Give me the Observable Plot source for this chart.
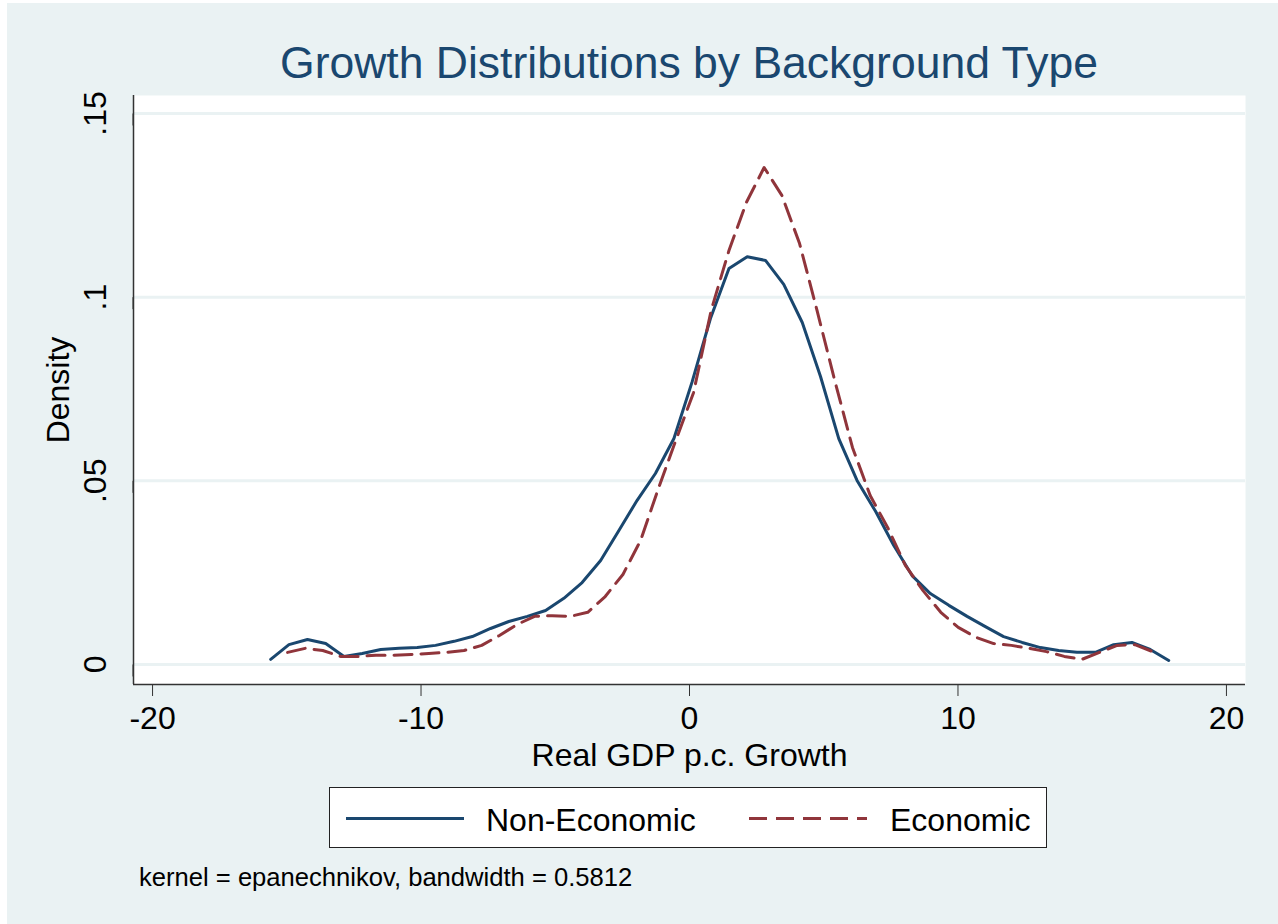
<!DOCTYPE html>
<html>
<head>
<meta charset="utf-8">
<script src="https://cdn.jsdelivr.net/npm/d3@7"></script>
<script src="https://cdn.jsdelivr.net/npm/@observablehq/plot@0.6"></script>
<style>
  html, body { margin: 0; padding: 0; background: #ffffff; width: 1278px; height: 924px; overflow: hidden;
    font-family: "Liberation Sans", Arial, sans-serif; }
  #bg { position: absolute; left: 7px; top: 3px; width: 1271px; height: 921px; background: #EAF2F3; }
  #title { position: absolute; left: 133px; width: 1112px; top: 38px; text-align: center; font-size: 44.5px;
    line-height: 50px; color: #1A476F; white-space: nowrap; }
  #chart { position: absolute; left: 0; top: 80px; }
  #legend { position: absolute; left: 329px; top: 787px; width: 716px; height: 59px; background: #ffffff;
    border: 1px solid #222; box-sizing: content-box; }
  .key { position: absolute; top: 0; }
  .lab { position: absolute; top: 14px; font-size: 32px; line-height: 36px; color: #000; white-space: nowrap; }
  #caption { position: absolute; left: 139px; top: 862px; font-size: 25.6px; line-height: 30px; color: #000; white-space: nowrap; }
</style>
</head>
<body>
<div id="bg"></div>
<div id="title"></div>
<div id="chart"></div>
<div id="legend"></div>
<div id="caption"></div>
<script>
// ---- Data ----
const titleText = "Growth Distributions by Background Type";
const xLabel = "Real GDP p.c. Growth";
const yLabel = "Density";
const seriesNames = ["Non-Economic", "Economic"];
const captionText = "kernel = epanechnikov, bandwidth = 0.5812";

const xTicks = [-20, -10, 0, 10, 20];
const xTickLabels = ["-20", "-10", "0", "10", "20"];
const yTicks = [0, 0.05, 0.1, 0.15];
const yTickLabels = ["0", ".05", ".1", ".15"];

const xNonEcon = [-15.60,-14.92,-14.23,-13.55,-12.87,-12.19,-11.50,-10.82,-10.14,-9.46,
  -8.77,-8.09,-7.41,-6.73,-6.04,-5.36,-4.68,-4.00,-3.31,-2.63,
  -1.95,-1.27,-0.58,0.10,0.78,1.47,2.15,2.83,3.51,4.20,
  4.88,5.56,6.24,6.93,7.61,8.29,8.97,9.66,10.34,11.02,
  11.70,12.39,13.07,13.75,14.43,15.12,15.80,16.48,17.16,17.85];
const yNonEcon = [0.0014,0.0054,0.0068,0.0057,0.0022,0.0030,0.0041,0.0044,0.0046,0.0052,
  0.0063,0.0076,0.0098,0.0117,0.0131,0.0147,0.0180,0.0223,0.0283,0.0365,
  0.0447,0.0520,0.0615,0.0770,0.0942,0.1078,0.1110,0.1100,0.1035,0.0931,
  0.0784,0.0615,0.0501,0.0417,0.0324,0.0242,0.0193,0.0161,0.0131,0.0103,
  0.0076,0.0060,0.0046,0.0038,0.0033,0.0033,0.0054,0.0060,0.0041,0.0011];

const xEcon = [-14.97,-14.31,-13.66,-13.00,-12.34,-11.68,-11.03,-10.37,-9.71,-9.05,
  -8.40,-7.74,-7.08,-6.42,-5.77,-5.11,-4.45,-3.79,-3.14,-2.48,
  -1.82,-1.16,-0.51,0.15,0.81,1.47,2.12,2.78,3.44,4.10,
  4.75,5.41,6.07,6.73,7.38,8.04,8.70,9.36,10.01,10.67,
  11.33,11.99,12.64,13.30,13.96,14.62,15.27,15.93,16.59,17.25];
const yEcon = [0.0033,0.0044,0.0038,0.0022,0.0022,0.0025,0.0025,0.0027,0.0030,0.0033,
  0.0038,0.0052,0.0079,0.0109,0.0131,0.0133,0.0131,0.0142,0.0185,0.0245,
  0.0338,0.0479,0.0610,0.0740,0.0965,0.1127,0.1258,0.1353,0.1277,0.1146,
  0.0964,0.0773,0.0591,0.0460,0.0373,0.0270,0.0201,0.0142,0.0101,0.0074,
  0.0057,0.0052,0.0044,0.0035,0.0022,0.0014,0.0033,0.0052,0.0054,0.0035];

const colors = ["#1A476F", "#90353B"];
const dashes = [null, "18,9"];

// ---- Build table ----
const rows = [
  ...xNonEcon.map((x, i) => ({x, y: yNonEcon[i], series: seriesNames[0]})),
  ...xEcon.map((x, i) => ({x, y: yEcon[i], series: seriesNames[1]}))
];

const xDomain = [-20.71, 20.71];
const yDomain = [-0.00545, 0.1549];
const font = "Liberation Sans, Arial, sans-serif";

const chart = Plot.plot({
  width: 1278,
  height: 700,
  marginLeft: 133,
  marginRight: 33,
  marginTop: 15,
  marginBottom: 96,
  style: {background: "transparent", fontFamily: font, overflow: "visible", color: "#000"},
  x: {domain: xDomain},
  y: {domain: yDomain},
  marks: [
    Plot.frame({fill: "white", stroke: "none"}),
    Plot.gridY(yTicks, {stroke: "#EAF2F3", strokeOpacity: 1, strokeWidth: 3}),
    Plot.line(rows.filter(d => d.series === seriesNames[0]), {x: "x", y: "y", stroke: colors[0], strokeWidth: 3}),
    Plot.line(rows.filter(d => d.series === seriesNames[1]), {x: "x", y: "y", stroke: colors[1], strokeWidth: 3, strokeDasharray: dashes[1]}),
    Plot.ruleX([xDomain[0]], {stroke: "#333", strokeWidth: 1.5}),
    Plot.ruleY([yDomain[0]], {stroke: "#333", strokeWidth: 1.5}),
    Plot.axisX({ticks: xTicks, tickSize: 12, tickPadding: 10, fontSize: 32, stroke: "#333",
      tickFormat: d => xTickLabels[xTicks.indexOf(d)],
      label: xLabel, labelAnchor: "center", labelOffset: 81, labelArrow: "none"}),
    Plot.axisY({ticks: yTicks, tickSize: 12, tickPadding: 16, fontSize: 32, stroke: "#333",
      tickFormat: d => yTickLabels[yTicks.indexOf(d)],
      rotate: -90, textAnchor: "middle", lineAnchor: "bottom",
      label: yLabel, labelAnchor: "center", labelOffset: 87, labelArrow: "none"})
  ]
});
document.getElementById("chart").appendChild(chart);

document.getElementById("title").textContent = titleText;
document.getElementById("caption").textContent = captionText;

// ---- Legend ----
const legend = document.getElementById("legend");
const keyX = [16, 419];
const labX = [156, 560];
seriesNames.forEach((name, i) => {
  const svg = d3.create("svg").attr("class", "key").attr("width", 118).attr("height", 61)
    .style("left", keyX[i] + "px");
  svg.append("line").attr("x1", 0).attr("x2", 118).attr("y1", 30.5).attr("y2", 30.5)
    .attr("stroke", colors[i]).attr("stroke-width", 3)
    .attr("stroke-dasharray", dashes[i]);
  legend.appendChild(svg.node());
  const lab = document.createElement("div");
  lab.className = "lab";
  lab.style.left = labX[i] + "px";
  lab.textContent = name;
  legend.appendChild(lab);
});
</script>
</body>
</html>
